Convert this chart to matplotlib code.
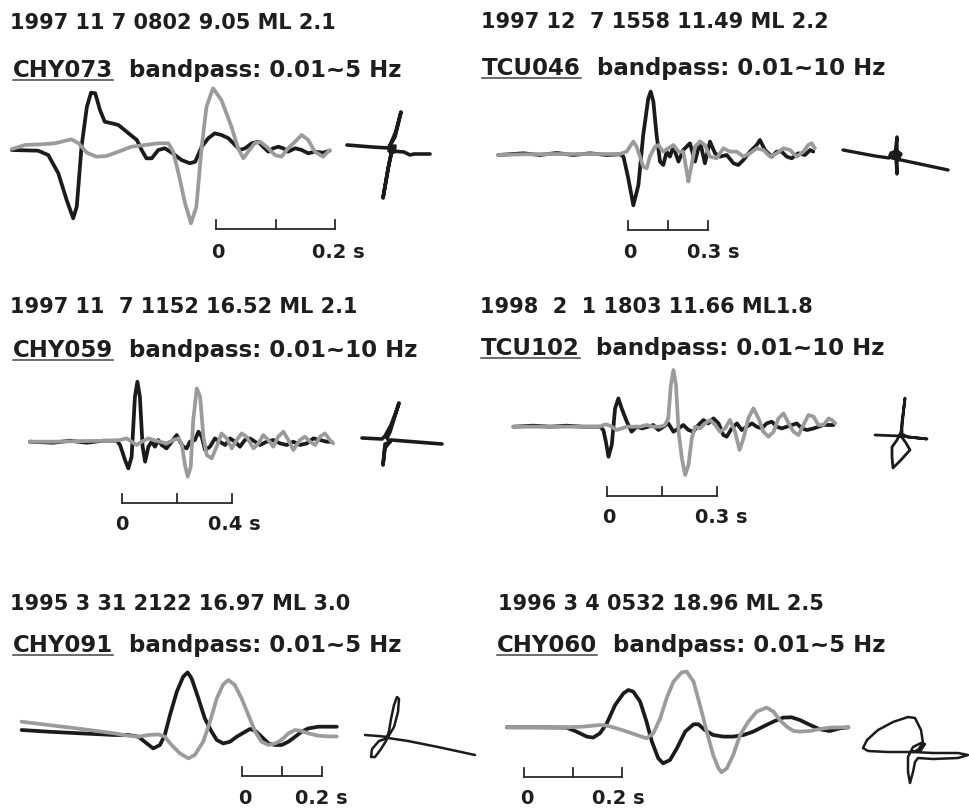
import matplotlib
matplotlib.use("Agg")
import matplotlib.pyplot as plt
from matplotlib.lines import Line2D

# ---- waveforms: time (s) and relative amplitude, black / gray components ----
# CHY073
t_k1 = [-0.343, -0.299, -0.282, -0.265, -0.251, -0.240, -0.234, -0.226, -0.217, -0.210,
        -0.203, -0.195, -0.187, -0.175, -0.164, -0.147, -0.133, -0.125, -0.117, -0.108,
        -0.097, -0.086, -0.077, -0.069, -0.058, -0.044, -0.035, -0.024, -0.013, -0.002,
        0.009, 0.021, 0.032, 0.040, 0.049, 0.060, 0.071, 0.079, 0.088, 0.096,
        0.105, 0.113, 0.121, 0.133, 0.144, 0.155, 0.166, 0.180, 0.191]
a_k1 = [0, -0.7, -5, -23.3, -50, -68.3, -56.7, 3.3, 43.3, 57.3,
        56.7, 40, 28.3, 26.7, 25, 16.7, 10, 0, -8.3, -8.3,
        0, 1.7, -1.7, -5, -10, -13.3, -11.7, 3.3, 11.7, 16.7,
        15, 11.7, 5, 0, 1.7, 6.7, 8.3, 3.3, -1.7, 1.7,
        3.3, 1.7, -1.7, 1.7, 0, -3.3, -1.7, -2.7, -0.7]
t_g1 = [-0.343, -0.321, -0.293, -0.271, -0.243, -0.231, -0.217, -0.201, -0.184, -0.164,
        -0.142, -0.119, -0.097, -0.080, -0.072, -0.063, -0.052, -0.042, -0.033, -0.024,
        -0.016, -0.005, 0.009, 0.026, 0.037, 0.046, 0.054, 0.065, 0.074, 0.085,
        0.099, 0.110, 0.121, 0.133, 0.144, 0.155, 0.166, 0.180, 0.191]
a_g1 = [1, 5, 5.7, 6.7, 10.7, 6.7, -2.7, -6.7, -6, -1.7,
        3.3, 5, 6.7, 6.7, -1.7, -23.3, -53.3, -73.3, -56.7, 3.3,
        43.3, 61.7, 50, 23.3, 1.7, -8.3, -1.7, 6.7, 8.3, 3.3,
        -5, -6.7, 1.7, 8.3, 15, 10, -1.7, -6.7, 0]

# TCU046
t_k2 = [-0.486, -0.392, -0.330, -0.267, -0.205, -0.142, -0.080, -0.030,
        -0.017, 0.001, 0.020, 0.039, 0.057, 0.076, 0.085, 0.095, 0.107, 0.120,
        0.132, 0.145, 0.157, 0.170, 0.189, 0.207, 0.232, 0.251, 0.270, 0.288,
        0.307, 0.326, 0.345, 0.370, 0.395, 0.413, 0.432, 0.457, 0.482, 0.494,
        0.513, 0.538, 0.557, 0.576, 0.594, 0.613, 0.638, 0.663, 0.682, 0.694]
a_k2 = [-0.7, 1, -0.7, 1.3, -0.7, 1, -0.7, 0,
        -2.3, -24, -51, -30.7, 19.3, 56, 62.7, 52.7, 19.3, -7.3,
        -10.7, 2.7, -2.3, 7.7, -7.3, 4.3, 11, -7.3, 12.7, -9,
        12.7, 1, -2.3, -0.7, -9, -10.7, -5.7, 2.7, 9.3, 14.3,
        4.3, -2.3, 2.7, 2.7, -2.3, -4, 1, -0.7, 4.3, 2.7]
t_g2 = [-0.486, -0.392, -0.267, -0.142, -0.030,
        -0.005, 0.007, 0.020, 0.032, 0.045, 0.057, 0.070, 0.082, 0.101, 0.114,
        0.132, 0.151, 0.170, 0.189, 0.207, 0.220, 0.226, 0.238, 0.251, 0.270,
        0.288, 0.307, 0.332, 0.357, 0.382, 0.407, 0.432, 0.457, 0.482, 0.507,
        0.532, 0.557, 0.582, 0.607, 0.632, 0.657, 0.675, 0.688, 0.700]
a_g2 = [-0.7, 0, 0.3, 0.3, 0.3,
        2.7, 7.7, 12.7, 7.7, -2.3, -12.3, -14, -2.3, 7.7, 9.3,
        2.7, 6, 9.3, 2.7, 2.7, -17.3, -27.3, -10.7, 7.7, 12.7,
        9.3, -2.3, -4, 6, 2.7, 2.7, -2.3, 1, 6, 4.3,
        -2.3, 1, 6, 4.3, -2.3, 2.7, 9.3, 11, 6]

# CHY059
t_k3 = [-0.335, -0.250, -0.189, -0.128, -0.068, -0.019, -0.007, 0.011, 0.023, 0.035,
        0.047, 0.056, 0.065, 0.075, 0.084, 0.096, 0.108, 0.120, 0.132, 0.144,
        0.162, 0.181, 0.199, 0.211, 0.223, 0.235, 0.247, 0.265, 0.278, 0.290,
        0.302, 0.320, 0.338, 0.356, 0.375, 0.393, 0.411, 0.429, 0.447, 0.465,
        0.484, 0.502, 0.526, 0.550, 0.575, 0.599, 0.623, 0.647, 0.672, 0.696,
        0.720, 0.744, 0.762]
a_k3 = [0, -1, 1, -1, 1, 1, -3.3, -18.3, -26.7, -15,
        45, 60, 45, -5, -20, -5, 0, -5, 1.7, -3.3,
        -6.7, 0, 6.7, 0, -5, -6.7, 0, 1.7, 10, 5,
        -8.3, -5, 3.3, 0, -3.3, 3.3, 0, -5, 1.7, 3.3,
        0, -3.3, 0, 1.7, -1.7, -3.3, 0, -3.3, -1.7, 3.3,
        1.7, 0, 0]
t_g3 = [-0.335, -0.250, -0.128, -0.032, -0.007, 0.017, 0.035, 0.053, 0.072, 0.096,
        0.114, 0.138, 0.162, 0.187, 0.205, 0.217, 0.229, 0.239, 0.250, 0.259,
        0.272, 0.284, 0.296, 0.308, 0.326, 0.344, 0.362, 0.381, 0.399, 0.417,
        0.435, 0.453, 0.478, 0.496, 0.514, 0.532, 0.550, 0.568, 0.587, 0.605,
        0.623, 0.647, 0.665, 0.684, 0.702, 0.720, 0.738, 0.756, 0.768]
a_g3 = [0, 0, 0.7, 1, 1.7, 3.3, 0, -3.3, 0, 3.3,
        1.7, 0, -1.7, 1.7, 3.3, -1.7, -23.3, -35, -25, 21.7,
        53.3, 45, 5, -13.3, -16.7, -5, 8.3, 3.3, -6.7, 1.7,
        8.3, 5, -6.7, -1.7, 6.7, 1.7, -5, 5, 10, 1.7,
        -8.3, 1.7, 5, 0, -3.3, 5, 8.3, 1.7, -1.7]

# TCU102
t_k4 = [-0.255, -0.201, -0.155, -0.110, -0.065, -0.019, -0.010, -0.003, 0.004, 0.013,
        0.022, 0.031, 0.040, 0.054, 0.067, 0.081, 0.095, 0.113, 0.126, 0.140,
        0.154, 0.167, 0.181, 0.195, 0.208, 0.222, 0.235, 0.249, 0.263, 0.276,
        0.290, 0.304, 0.317, 0.326, 0.340, 0.354, 0.367, 0.381, 0.395, 0.408,
        0.422, 0.435, 0.449, 0.463, 0.476, 0.490, 0.504, 0.517, 0.531, 0.545,
        0.563, 0.576, 0.590, 0.608, 0.617]
a_k4 = [0, 1, 0, 1, 0, 0, -3.3, -15, -30, -18.3,
        18.3, 28.3, 18.3, 5, -5, 0, -1.7, 0, 1.7, -3.3,
        0, 3.3, -5, -1.7, 1.7, -3.3, -5, 1.7, 6.7, 3.3,
        8.3, 3.3, -8.3, -10, -1.7, 3.3, -3.3, 0, 3.3, 0,
        -1.7, 3.3, 5, 0, -1.7, 0, 1.7, 3.3, -1.7, -3.3,
        -1.7, 0, 1.7, 1.7, 1.7]
t_g4 = [-0.255, -0.201, -0.110, -0.019, -0.010, -0.001, 0.013, 0.026, 0.040, 0.054,
        0.072, 0.090, 0.108, 0.126, 0.145, 0.158, 0.167, 0.174, 0.181, 0.188,
        0.195, 0.204, 0.213, 0.222, 0.231, 0.240, 0.254, 0.267, 0.281, 0.295,
        0.308, 0.322, 0.335, 0.349, 0.361, 0.372, 0.385, 0.399, 0.413, 0.426,
        0.440, 0.454, 0.467, 0.481, 0.495, 0.508, 0.522, 0.535, 0.549, 0.563,
        0.576, 0.590, 0.604, 0.613, 0.622]
a_g4 = [0, 0, 0, 0, 1.7, 2.3, 0, -3.3, -1.7, 0,
        0, 0, 1.7, 0, 0, 1.7, 8.3, 41.7, 56.7, 41.7,
        -5, -31.7, -48.3, -38.3, -11.7, 0, -1.7, 3.3, 6.7, 1.7,
        -5, -1.7, 6.7, -5, -23.3, -11.7, 8.3, 18.3, 8.3, -5,
        -10, -5, 8.3, 13.3, 3.3, -5, -8.3, 1.7, 11.7, 10,
        1.7, 1.7, 8.3, 6.7, 3.3]

# CHY091
t_k5 = [-0.551, -0.484, -0.401, -0.318, -0.284, -0.259, -0.238, -0.222, -0.205, -0.193,
        -0.180, -0.163, -0.147, -0.136, -0.126, -0.109, -0.093, -0.076, -0.063, -0.047,
        -0.030, -0.013, 0.008, 0.020, 0.033, 0.049, 0.066, 0.083, 0.099, 0.116,
        0.133, 0.149, 0.166, 0.191, 0.216, 0.237]
a_k5 = [1.7, 0, -1.7, -3.3, -3.3, -5, -11.7, -16.7, -13.3, -3.3,
        16.7, 40, 55, 59.3, 53.3, 33.3, 13.3, 0, -8.3, -11.7,
        -10, -5, 0, 2.7, 1, -5, -11.7, -13.3, -13.3, -10,
        -5, 0, 3.3, 5, 5, 5]
t_g5 = [-0.551, -0.484, -0.401, -0.318, -0.284, -0.259, -0.234, -0.209, -0.193, -0.176,
        -0.155, -0.134, -0.118, -0.097, -0.080, -0.063, -0.047, -0.034, -0.018, -0.001,
        0.016, 0.033, 0.049, 0.066, 0.083, 0.099, 0.116, 0.133, 0.149, 0.166,
        0.191, 0.216, 0.237]
a_g5 = [10, 6.7, 2.7, -1.7, -4, -5, -3.3, -2.7, -5, -13.3,
        -21.7, -26.7, -23.3, -10, 10, 33.3, 47.3, 51.7, 46.7, 33.3,
        16.7, 0, -10, -13.3, -11.7, -8.3, -1.7, 1.7, 0.7, -1.7,
        -4, -4.7, -4.7]

# CHY060
t_k6 = [-0.035, 0.019, 0.087, 0.107, 0.128, 0.141, 0.155, 0.169, 0.186, 0.203,
        0.213, 0.223, 0.237, 0.250, 0.261, 0.274, 0.284, 0.298, 0.312, 0.329,
        0.346, 0.356, 0.369, 0.386, 0.407, 0.427, 0.448, 0.468, 0.488, 0.509,
        0.529, 0.546, 0.563, 0.584, 0.604, 0.624, 0.645, 0.662]
a_k6 = [0, 0, -0.3, -4.3, -9.3, -10.3, -6, 4, 22.3, 34,
        37.3, 35.7, 25.7, 5.7, -14.3, -31, -36, -32.7, -21, -4.3,
        3, 3, -2.7, -7.7, -9.3, -9.3, -7.7, -4.3, 0.7, 5.7,
        9.7, 10, 7.3, 2.3, -2, -3.7, -1, 0]
t_g6 = [-0.035, 0.019, 0.087, 0.121, 0.155, 0.169, 0.189, 0.210, 0.230, 0.250,
        0.264, 0.278, 0.291, 0.305, 0.322, 0.332, 0.346, 0.359, 0.373, 0.386,
        0.397, 0.403, 0.414, 0.427, 0.441, 0.458, 0.475, 0.495, 0.509, 0.522,
        0.536, 0.550, 0.563, 0.584, 0.604, 0.624, 0.662]
a_g6 = [0, 0, 0, 0.7, 2.3, 1.7, -1, -4.3, -7.7, -11,
        -6, 9, 29, 45.7, 55, 55.7, 45.7, 22.3, -4.3, -27.7,
        -41, -45, -41, -27.7, -7.7, 5.7, 15.7, 19.7, 15.7, 7.3,
        0.7, -3.7, -4.3, -3.7, -1.7, -0.3, 0]

# ---- particle motion (same relative units) ----
pm_x1 = [-45, -20, -3, 4, 9, 3, -3, 3, 2, -3, 0, -4, -9, -3, 0, 12, 18, 22, 38]
pm_y1 = [4, 2, 1, 18, 37, 12, 2, 3, -3, -2, 0, -20, -49, -15, -2, -3, -6, -5, -5]
pm_x2 = [-52, -20, -6, -4, 2, 6, 3, -3, 0, 2, 2, 1, 6, 25, 53]
pm_y2 = [5, -1, -3, 2, 4, 1, -4, -3, 1, 18, -19, -4, -5, -9, -15]
pm_x3 = [-25, -5, -2, 4, 9, 12, 3, 0, 3, -2, -4, -2, 2, 4, 55]
pm_y3 = [2, 1, 4, 15, 28, 37, 8, 2, -2, -4, -25, -8, -3, 0, -4]
pm_x4 = [-25, 0, 27, 8, 2, 2, 5, 3, 1, -3, -8, -8, -7, 0, 10, 6, 1]
pm_y4 = [2, 1, -2, 0, 3, 15, 39, 20, 5, -3, -10, -20, -31, -24, -13, -6, 1]
pm_x5 = [-23, -10, 0, 6, 10, 11, 9, 6, 3, 1, -2, -7, -13, -17, -16, -9, 0, 20, 50, 87]
pm_y5 = [2, 1, 0, 10, 25, 38, 40, 32, 18, 6, -4, -12, -20, -20, -12, -4, -1, -4, -10, -18]
pm_x6 = [0, -25, -45, -50, -46, -35, -20, -5, 2, 8, 10, 5, 0, 20, 45, 55, 45, 20, 5,
         2, 0, -3, -5, -5, 0, 8, 12, 8, 0]
pm_y6 = [0, 0, 1, 4, 12, 22, 30, 35, 34, 22, 9, 2, 0, -1, -1, -3, -6, -7, -6,
         -10, -20, -31, -20, -5, 5, 9, 8, 2, 0]

events = ["1997 11 7 0802 9.05 ML 2.1", "1997 12  7 1558 11.49 ML 2.2",
          "1997 11  7 1152 16.52 ML 2.1", "1998  2  1 1803 11.66 ML1.8",
          "1995 3 31 2122 16.97 ML 3.0", "1996 3 4 0532 18.96 ML 2.5"]
stations = ["CHY073", "TCU046", "CHY059", "TCU102", "CHY091", "CHY060"]
bands = ["0.01~5 Hz", "0.01~10 Hz", "0.01~10 Hz", "0.01~10 Hz", "0.01~5 Hz", "0.01~5 Hz"]
scale_len = [0.2, 0.3, 0.4, 0.3, 0.2, 0.2]

traces = [(t_k1, a_k1, t_g1, a_g1, pm_x1, pm_y1),
          (t_k2, a_k2, t_g2, a_g2, pm_x2, pm_y2),
          (t_k3, a_k3, t_g3, a_g3, pm_x3, pm_y3),
          (t_k4, a_k4, t_g4, a_g4, pm_x4, pm_y4),
          (t_k5, a_k5, t_g5, a_g5, pm_x5, pm_y5),
          (t_k6, a_k6, t_g6, a_g6, pm_x6, pm_y6)]

# layout in pixels (image coords, y down)
# t=0 x, baseline y, px per second, scale bar y, pm centre, title x/y, line2 x/y,
# "0" label x, "x s" label x, label baseline y, pm line width
layout = [
    dict(x0=216, y0=150, pps=595, bar=229, pmc=(392, 149), tx=10, ty=29, sx=13, sy=77,
         l0=218, l1=312, ly=258, pmlw=2.6),
    dict(x0=628, y0=154.3, pps=267, bar=230, pmc=(895, 155), tx=481, ty=28, sx=482, sy=75,
         l0=630, l1=687, ly=258, pmlw=2.4),
    dict(x0=122, y0=441.7, pps=275, bar=503, pmc=(387, 440), tx=10, ty=313, sx=13, sy=357,
         l0=122, l1=208, ly=530, pmlw=2.6),
    dict(x0=607, y0=426.7, pps=367, bar=496, pmc=(900, 437), tx=480, ty=313, sx=481, sy=355,
         l0=609, l1=695, ly=523, pmlw=2.0),
    dict(x0=242, y0=731.7, pps=400, bar=776, pmc=(388, 737), tx=10, ty=610, sx=13, sy=652,
         l0=245, l1=295, ly=804, pmlw=1.8),
    dict(x0=524, y0=727.3, pps=490, bar=777, pmc=(913, 752), tx=498, ty=610, sx=497, sy=652,
         l0=527, l1=592, ly=804, pmlw=1.8),
]

W, H = 969, 808
BLACK = "#1b1b1b"
GRAY = "#9b9b9b"
TXT = "#1e1e1e"

fig = plt.figure(figsize=(W / 100, H / 100), dpi=100)
fig.patch.set_facecolor("white")


def full_axes(x0, y0, xscale, name):
    # an invisible axes over the whole figure whose origin sits at pixel (x0, y0)
    ax = fig.add_axes([0, 0, 1, 1], label=name)
    ax.set_xlim(-x0 / xscale, (W - x0) / xscale)
    ax.set_ylim(-(H - y0), y0)
    ax.axis("off")
    return ax


def ftext(x, y, s, **kw):
    return fig.text(x / W, 1 - y / H, s, color=TXT, fontweight="bold",
                    family="DejaVu Sans", va="baseline", **kw)


renderer = fig.canvas.get_renderer()

for i, lay in enumerate(layout):
    tk, ak, tg, ag, px, py = traces[i]

    ax = full_axes(lay["x0"], lay["y0"], lay["pps"], "wave%d" % i)
    ax.plot(tk, ak, color=BLACK, lw=2.7, solid_joinstyle="round", solid_capstyle="round")
    ax.plot(tg, ag, color=GRAY, lw=2.7, solid_joinstyle="round", solid_capstyle="round")

    # time scale bar
    L = scale_len[i]
    yb = -(lay["bar"] - lay["y0"])
    ax.plot([0, L], [yb, yb], color="#2a2a2a", lw=1.3)
    for xt in (0, L / 2, L):
        ax.plot([xt, xt], [yb, yb + 9], color="#2a2a2a", lw=1.3)

    pax = full_axes(lay["pmc"][0], lay["pmc"][1], 1.0, "pm%d" % i)
    pax.plot(px, py, color=BLACK, lw=lay["pmlw"], solid_joinstyle="round",
             solid_capstyle="round")

    # labels
    ftext(lay["l0"], lay["ly"], "0", fontsize=14, ha="center")
    ftext(lay["l1"], lay["ly"], "%g s" % L, fontsize=14, ha="left")
    ftext(lay["tx"], lay["ty"], events[i], fontsize=15, ha="left")
    st = ftext(lay["sx"], lay["sy"], stations[i], fontsize=16.5, ha="left")
    bb = st.get_window_extent(renderer)
    x_right = bb.x1 / fig.dpi * 100
    ftext(x_right, lay["sy"], "  bandpass: " + bands[i], fontsize=16.5, ha="left")
    uy = 1 - (lay["sy"] + 3) / H
    fig.add_artist(Line2D([lay["sx"] / W, x_right / W], [uy, uy], color="#444444", lw=1.1))

fig.savefig("out.png", dpi=100, facecolor="white")
